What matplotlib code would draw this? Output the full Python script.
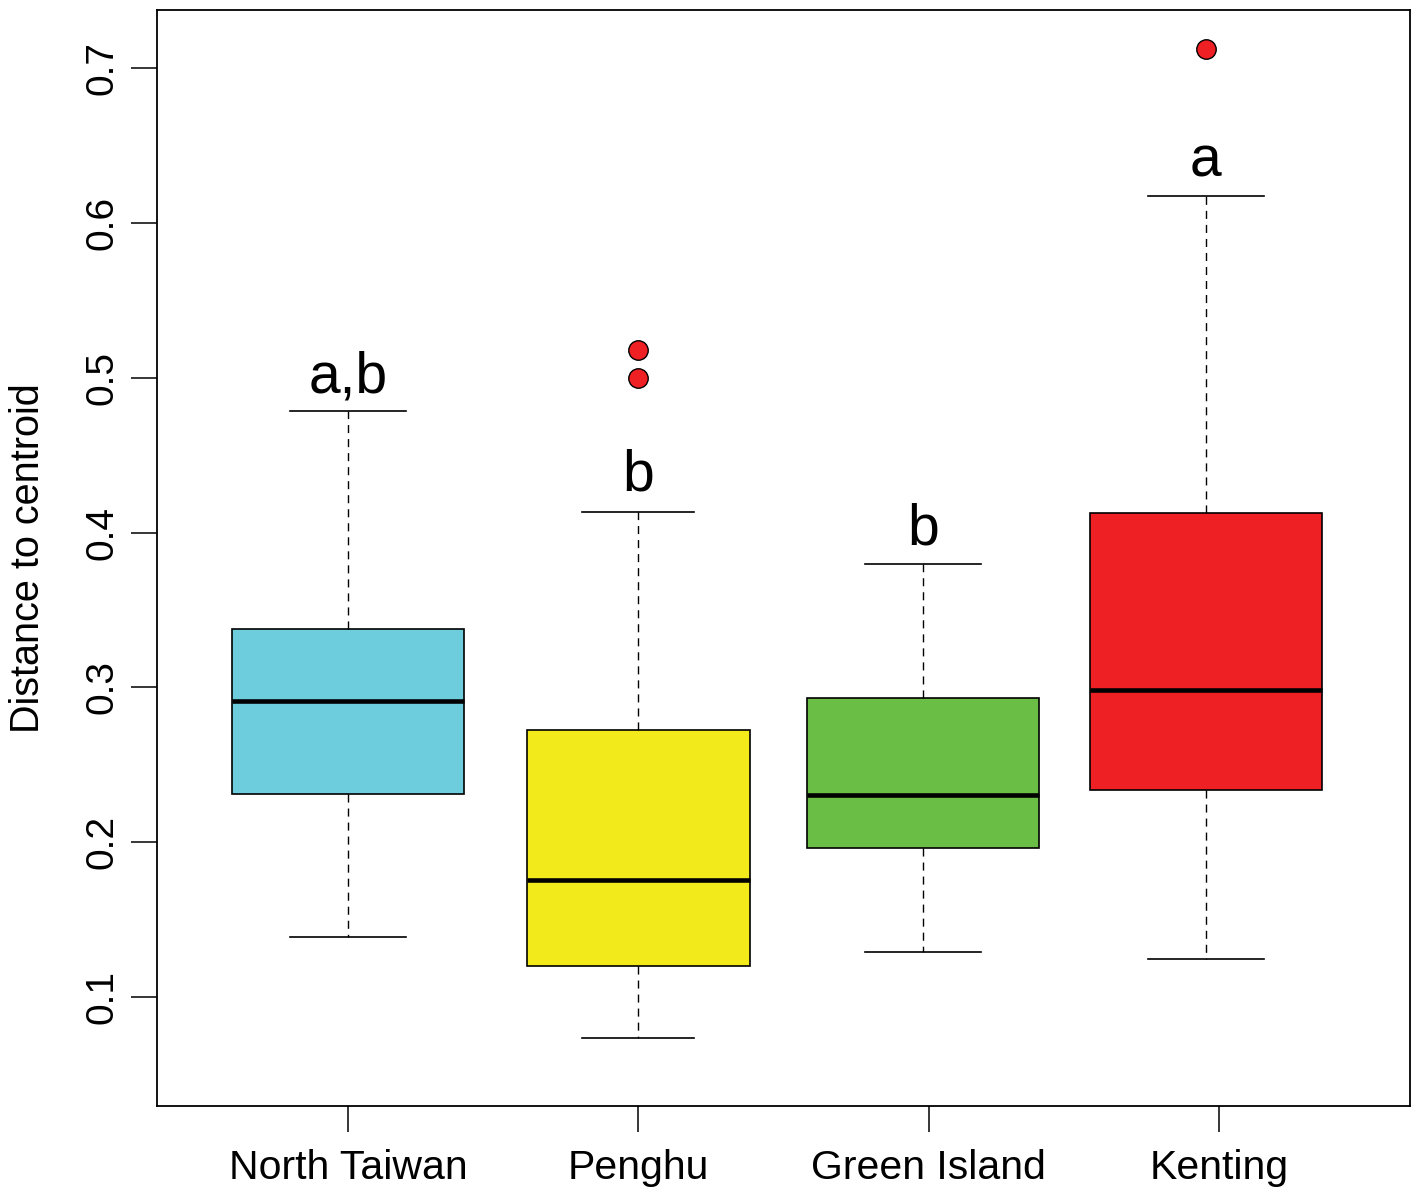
import matplotlib
matplotlib.use("Agg")
import matplotlib.pyplot as plt

plt.rcParams['font.family'] = ['Liberation Sans', 'DejaVu Sans']

# ---- data ----
sites = ["North Taiwan", "Penghu", "Green Island", "Kenting"]
whisker_low = [0.1387, 0.0735, 0.1290, 0.1245]
q1 = [0.2311, 0.1200, 0.1962, 0.2337]
median = [0.2912, 0.1756, 0.2305, 0.2983]
q3 = [0.3377, 0.2724, 0.2931, 0.4126]
whisker_high = [0.4785, 0.4132, 0.3797, 0.6173]
outliers = [[], [0.5179, 0.5000], [], [0.7123]]
letters = ["a,b", "b", "b", "a"]
letter_y = [0.4905, 0.4270, 0.3925, 0.6300]
colors = ["#6ECDDD", "#F2EA1A", "#6BBE45", "#EE2024"]
ytick_vals = [0.1, 0.2, 0.3, 0.4, 0.5, 0.6, 0.7]
ylabel = "Distance to centroid"

# ---- layout ----
tick_pos = [1, 2, 3, 4]
box_pos = [1.0, 2.0, 2.98, 3.955]
widths = [0.80, 0.77, 0.80, 0.80]

fig = plt.figure(figsize=(14.16, 11.87), dpi=100)
ax = fig.add_axes([157/1416, 81/1187, (1410-157)/1416, (1106-10)/1187])

stats = []
for i in range(len(sites)):
    stats.append(dict(whislo=whisker_low[i], q1=q1[i], med=median[i],
                      q3=q3[i], whishi=whisker_high[i], fliers=outliers[i]))

bp = ax.bxp(stats, positions=box_pos, widths=widths,
            capwidths=[w/2 for w in widths],
            patch_artist=True, showfliers=True,
            boxprops=dict(linewidth=1.2, edgecolor='black'),
            medianprops=dict(linewidth=3.3, color='black', solid_capstyle='butt'),
            whiskerprops=dict(linewidth=1.0, color='black', linestyle=(0, (5.8, 4.3))),
            capprops=dict(linewidth=1.2, color='black'),
            flierprops=dict(marker='o', markersize=14, markerfacecolor='#EE2024',
                            markeredgecolor='black', markeredgewidth=1.0, linestyle='none'))
for patch, c in zip(bp['boxes'], colors):
    patch.set_facecolor(c)

for x, y, t in zip(box_pos, letter_y, letters):
    ax.text(x, y, t, ha='center', va='baseline', fontsize=41, color='black')

ax.set_xlim(0.342, 4.658)
ax.set_ylim(0.0296, 0.7375)
ax.set_xticks(tick_pos)
ax.set_xticklabels(sites, fontsize=29.5)
ax.set_yticks(ytick_vals)
ax.set_yticklabels([f"{v:.1f}" for v in ytick_vals], fontsize=28, rotation=90, va='center')
ax.tick_params(axis='both', length=19, width=1.1, color='black')
ax.tick_params(axis='x', pad=12)
ax.tick_params(axis='y', pad=7)
for s in ax.spines.values():
    s.set_linewidth(1.3)
    s.set_color('black')

ax.set_ylabel(ylabel, fontsize=28.5)
ax.yaxis.set_label_coords(-(157-28)/(1410-157), 0.5)
ax.yaxis.label.set_va('center')

fig.savefig("out.png", dpi=100, facecolor='white')
